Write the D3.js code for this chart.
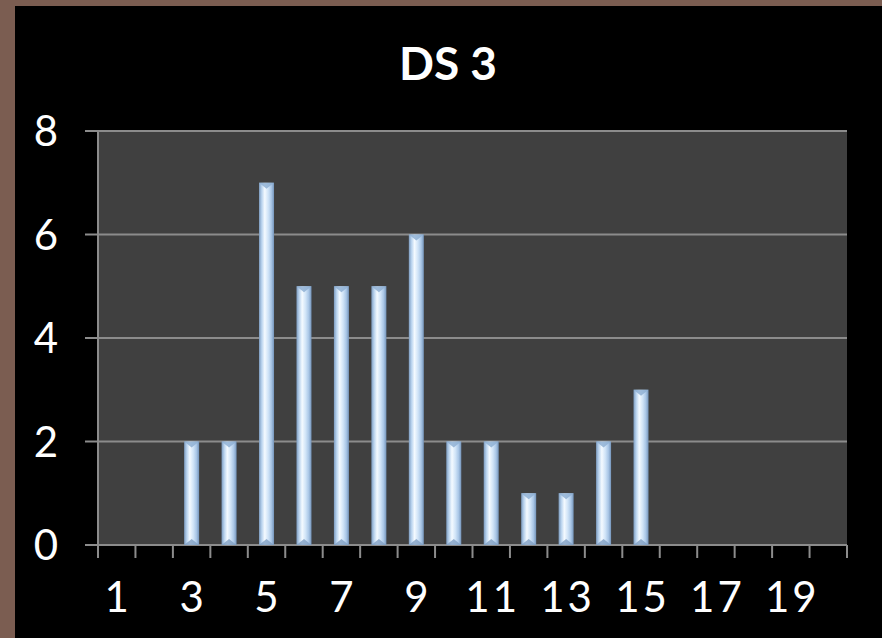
<!DOCTYPE html>
<html>
<head>
<meta charset="utf-8">
<title>DS 3</title>
<script src="https://cdn.jsdelivr.net/npm/d3@7"></script>
<style>
  * { margin: 0; padding: 0; }
  body { background: #7b5d51; width: 882px; height: 638px; overflow: hidden; }
  svg { display: block; }
</style>
</head>
<body>
<svg id="chart" width="882" height="638"></svg>
<script>
var categories = d3.range(1, 21);
var values = [0, 0, 2, 2, 7, 5, 5, 5, 6, 2, 2, 1, 1, 2, 3, 0, 0, 0, 0, 0];
var yTicks = [0, 2, 4, 6, 8];
var title = "DS 3";

var svg = d3.select("#chart");
var font = "Lato, 'Open Sans', sans-serif";

// black panel inside the brown frame
svg.append("rect").attr("x", 15).attr("y", 6).attr("width", 867).attr("height", 632).attr("fill", "#000");

var pLeft = 98, pRight = 847, pTop = 131, pBottom = 545;

var x = d3.scaleBand().domain(categories).range([pLeft, pRight]).paddingInner(0).paddingOuter(0);
var y = d3.scaleLinear().domain([0, 8]).range([pBottom, pTop]);

// plot area
svg.append("rect").attr("x", pLeft).attr("y", pTop)
   .attr("width", pRight - pLeft).attr("height", pBottom - pTop).attr("fill", "#404040");

// gradient for bars
var defs = svg.append("defs");
var grad = defs.append("linearGradient").attr("id", "barGrad")
   .attr("x1", "0%").attr("x2", "100%").attr("y1", "0%").attr("y2", "0%");
grad.append("stop").attr("offset", "0%").attr("stop-color", "#7d9cc0");
grad.append("stop").attr("offset", "18%").attr("stop-color", "#b9d3ee");
grad.append("stop").attr("offset", "38%").attr("stop-color", "#f4faff");
grad.append("stop").attr("offset", "62%").attr("stop-color", "#cfe3f7");
grad.append("stop").attr("offset", "82%").attr("stop-color", "#a9c6e6");
grad.append("stop").attr("offset", "100%").attr("stop-color", "#7595bb");

// gridlines
svg.append("g").selectAll("line").data(yTicks).enter().append("line")
   .attr("x1", pLeft - 13).attr("x2", pRight)
   .attr("y1", function (d) { return y(d); })
   .attr("y2", function (d) { return y(d); })
   .attr("stroke", "#8c8c8c").attr("stroke-width", 2);

// y axis line
svg.append("line").attr("x1", pLeft).attr("x2", pLeft).attr("y1", pTop).attr("y2", pBottom)
   .attr("stroke", "#8c8c8c").attr("stroke-width", 2);

// x ticks at category boundaries
var bounds = categories.map(function (c) { return x(c); }).concat([pRight]);
svg.append("g").selectAll("line").data(bounds).enter().append("line")
   .attr("x1", function (d) { return d; }).attr("x2", function (d) { return d; })
   .attr("y1", pBottom).attr("y2", pBottom + 13)
   .attr("stroke", "#8c8c8c").attr("stroke-width", 2);

// bars
var bw = 15;
var bars = svg.append("g").selectAll("g").data(categories.map(function (c, i) {
      return { c: c, v: values[i] };
   }).filter(function (d) { return d.v > 0; }))
   .enter().append("g");

bars.append("rect")
   .attr("x", function (d) { return x(d.c) + x.bandwidth() / 2 - bw / 2; })
   .attr("y", function (d) { return y(d.v); })
   .attr("width", bw)
   .attr("height", function (d) { return y(0) - y(d.v); })
   .attr("fill", "url(#barGrad)");

// top bevel
bars.append("path")
   .attr("d", function (d) {
      var x0 = x(d.c) + x.bandwidth() / 2 - bw / 2, y0 = y(d.v);
      return "M" + x0 + "," + y0 + "L" + (x0 + bw) + "," + y0 + "L" + (x0 + bw / 2) + "," + (y0 + 6) + "Z";
   })
   .attr("fill", "#8fb0d3").attr("opacity", 0.85);
// bottom bevel
bars.append("path")
   .attr("d", function (d) {
      var x0 = x(d.c) + x.bandwidth() / 2 - bw / 2, y0 = y(0);
      return "M" + x0 + "," + y0 + "L" + (x0 + bw) + "," + y0 + "L" + (x0 + bw / 2) + "," + (y0 - 6) + "Z";
   })
   .attr("fill", "#7f9fc3").attr("opacity", 0.8);

// y labels
svg.append("g").selectAll("text").data(yTicks).enter().append("text")
   .attr("x", 58).attr("y", function (d) { return y(d) + 15; })
   .attr("text-anchor", "end")
   .attr("font-family", font).attr("font-size", 42).attr("fill", "#fff")
   .text(function (d) { return d; });

// x labels, every other category (a bit of letter spacing, like the original font)
svg.append("g").selectAll("text").data(categories.filter(function (c) { return c % 2 == 1; }))
   .enter().append("text")
   .attr("x", function (d) { return x(d) + x.bandwidth() / 2 + 1.5; })
   .attr("y", 612)
   .attr("text-anchor", "middle")
   .attr("letter-spacing", 3)
   .attr("font-family", font).attr("font-size", 42).attr("fill", "#fff")
   .text(function (d) { return d; });

// title
svg.append("text").attr("x", 448).attr("y", 80).attr("text-anchor", "middle")
   .attr("font-family", font).attr("font-weight", "bold").attr("font-size", 46).attr("fill", "#fff")
   .text(title);
</script>
</body>
</html>
